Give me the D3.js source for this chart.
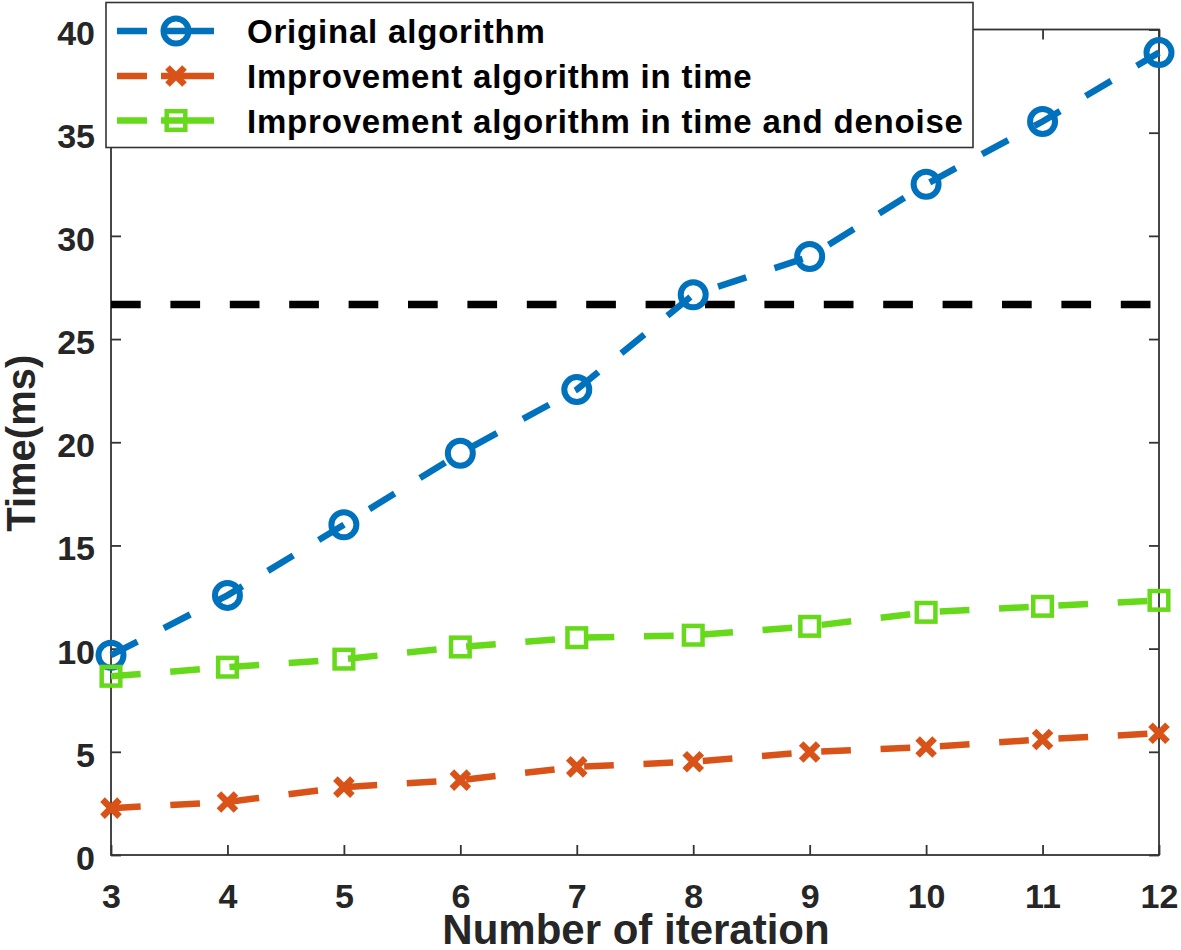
<!DOCTYPE html>
<html>
<head>
<meta charset="utf-8">
<script src="https://cdn.jsdelivr.net/npm/d3@7"></script>
<style>
  html, body { margin: 0; padding: 0; background: #fff; }
  svg { display: block; font-family: "Liberation Sans", Arial, Helvetica, sans-serif; }
</style>
</head>
<body>
<svg id="chart" width="1181" height="950"></svg>
<script>
// ---- data ----
const iterations = [3, 4, 5, 6, 7, 8, 9, 10, 11, 12];
const originalAlgorithm = [9.68, 12.58, 16.0, 19.47, 22.55, 27.15, 29.0, 32.5, 35.54, 38.88];
const improvementTime = [2.27, 2.57, 3.29, 3.63, 4.27, 4.52, 4.99, 5.23, 5.6, 5.9];
const improvementTimeDenoise = [8.66, 9.1, 9.49, 10.08, 10.53, 10.65, 11.08, 11.76, 12.05, 12.34];
const thresholdValue = 26.67;
const xTicks = [3, 4, 5, 6, 7, 8, 9, 10, 11, 12];
const yTicks = [0, 5, 10, 15, 20, 25, 30, 35, 40];
const seriesNames = ["Original algorithm", "Improvement algorithm in time", "Improvement algorithm in time and denoise"];
const xLabel = "Number of iteration";
const yLabel = "Time(ms)";

// ---- layout ----
const L = 111, R = 1159, T = 29.5, B = 855;
const svg = d3.select("#chart");
const x = d3.scaleLinear().domain([3, 12]).range([L, R]);
const y = d3.scaleLinear().domain([0, 40]).range([B, T]);
const axisColor = "#333333";
const textColor = "#262626";

const colors = ["#0072BD", "#D95319", "#66D91A"];
const series = [
  { name: seriesNames[0], values: originalAlgorithm, color: colors[0], marker: "circle" },
  { name: seriesNames[1], values: improvementTime, color: colors[1], marker: "cross" },
  { name: seriesNames[2], values: improvementTimeDenoise, color: colors[2], marker: "square" }
];

// axes box
svg.append("rect").attr("x", L).attr("y", T).attr("width", R - L).attr("height", B - T)
  .attr("fill", "none").attr("stroke", axisColor).attr("stroke-width", 1.8);

// axes with d3 (inward ticks on all four sides)
const tickLen = 10;
const axB = svg.append("g").attr("transform", `translate(0,${B})`)
  .call(d3.axisBottom(x).tickValues(xTicks).tickSizeInner(-tickLen).tickSizeOuter(0).tickPadding(30));
const axT = svg.append("g").attr("transform", `translate(0,${T})`)
  .call(d3.axisTop(x).tickValues(xTicks).tickSizeInner(-tickLen).tickSizeOuter(0).tickFormat(""));
const axL = svg.append("g").attr("transform", `translate(${L},0)`)
  .call(d3.axisLeft(y).tickValues(yTicks).tickSizeInner(-tickLen).tickSizeOuter(0).tickPadding(17));
const axR = svg.append("g").attr("transform", `translate(${R},0)`)
  .call(d3.axisRight(y).tickValues(yTicks).tickSizeInner(-tickLen).tickSizeOuter(0).tickFormat(""));
[axB, axT, axL, axR].forEach(g => {
  g.select(".domain").remove();
  g.selectAll(".tick line").attr("stroke", axisColor).attr("stroke-width", 1.8);
});
axB.selectAll(".tick text")
  .attr("fill", textColor).attr("font-size", 34).attr("font-weight", "bold")
  .attr("dy", null).attr("y", 53);
axL.selectAll(".tick text")
  .attr("fill", textColor).attr("font-size", 34).attr("font-weight", "bold")
  .attr("dy", null).attr("y", 14.5).attr("x", -16);

// axis labels
svg.append("text").attr("x", (L + R) / 2 + 1).attr("y", 944)
  .attr("text-anchor", "middle").attr("font-size", 42).attr("font-weight", "bold")
  .attr("fill", textColor).text(xLabel);
svg.append("text").attr("transform", `translate(35,${(T + B) / 2 + 1}) rotate(-90)`)
  .attr("text-anchor", "middle").attr("font-size", 40).attr("font-weight", "bold")
  .attr("fill", textColor).text(yLabel);

// threshold dashed line
svg.append("line").attr("x1", x(3)).attr("x2", x(12))
  .attr("y1", y(thresholdValue)).attr("y2", y(thresholdValue))
  .attr("stroke", "#000").attr("stroke-width", 7.5).attr("stroke-dasharray", "29.7,29.7");

// marker drawing
function drawMarker(g, type, color, cx, cy) {
  if (type === "circle") {
    g.append("circle").attr("cx", cx).attr("cy", cy).attr("r", 12.5)
      .attr("fill", "none").attr("stroke", color).attr("stroke-width", 6);
  } else if (type === "cross") {
    const s = 8.5;
    g.append("path")
      .attr("d", `M${cx - s},${cy - s}L${cx + s},${cy + s}M${cx - s},${cy + s}L${cx + s},${cy - s}`)
      .attr("fill", "none").attr("stroke", color).attr("stroke-width", 6.5);
  } else {
    const h = 9.3;
    g.append("rect").attr("x", cx - h).attr("y", cy - h).attr("width", 2 * h).attr("height", 2 * h)
      .attr("fill", "none").attr("stroke", color).attr("stroke-width", 4.5);
  }
}

const line = d3.line().x((d, i) => x(iterations[i])).y(d => y(d));
series.forEach(s => {
  const g = svg.append("g");
  g.append("path").datum(s.values).attr("d", line)
    .attr("fill", "none").attr("stroke", s.color).attr("stroke-width", 6.5)
    .attr("stroke-dasharray", "29.7,29.7");
  s.values.forEach((v, i) => drawMarker(g, s.marker, s.color, x(iterations[i]), y(v)));
});

// legend
const leg = svg.append("g");
leg.append("rect").attr("x", 106).attr("y", 2.5).attr("width", 867).attr("height", 145)
  .attr("fill", "#fff").attr("stroke", axisColor).attr("stroke-width", 1.6);
const rowY = [31, 76, 120.5];
series.forEach((s, i) => {
  const cy = rowY[i];
  leg.append("line").attr("x1", 117).attr("x2", 214).attr("y1", cy).attr("y2", cy)
    .attr("stroke", s.color).attr("stroke-width", 6.5).attr("stroke-dasharray", "30,14,200");
  drawMarker(leg, s.marker, s.color, 176, cy);
  leg.append("text").attr("x", 247).attr("y", cy + 12)
    .attr("font-size", 33).attr("font-weight", "bold").attr("letter-spacing", 0.8)
    .attr("fill", "#000").text(s.name);
});
</script>
</body>
</html>
